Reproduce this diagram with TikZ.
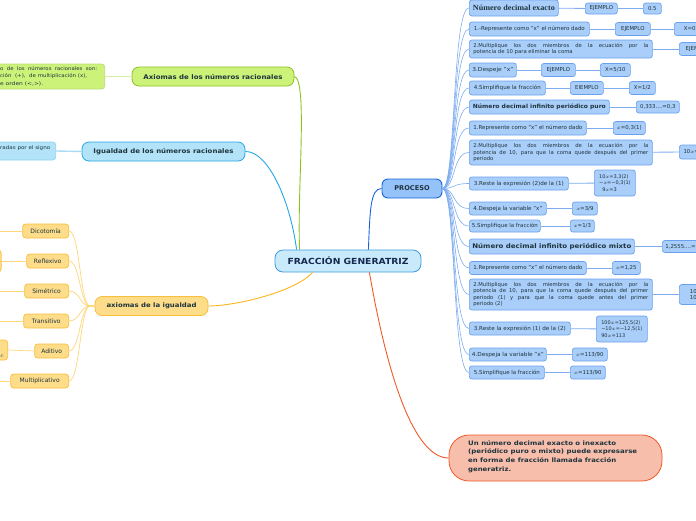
\documentclass[tikz,border=0pt]{standalone}
\usepackage{fontspec}
\usepackage{graphicx}
\setmainfont{DejaVu Sans}
\newfontfamily\serifb{Liberation Serif}
\usetikzlibrary{calc}
\newcommand\fw[2]{\resizebox{#1pt}{\height}{#2}}
\definecolor{txt}{RGB}{30,52,60}
\definecolor{navy}{RGB}{22,40,80}
\definecolor{pfl}{RGB}{170,206,250}
\definecolor{pbd}{RGB}{105,160,238}
\definecolor{plc}{RGB}{125,172,240}
\definecolor{prfl}{RGB}{150,194,250}
\definecolor{prbd}{RGB}{25,100,218}
\definecolor{cfl}{RGB}{200,234,250}
\definecolor{cbd}{RGB}{60,155,222}
\definecolor{gfl}{RGB}{204,242,122}
\definecolor{gbd}{RGB}{141,194,31}
\definecolor{gln}{RGB}{210,240,160}
\definecolor{sfl}{RGB}{179,227,248}
\definecolor{sbd}{RGB}{34,166,230}
\definecolor{sln}{RGB}{170,220,245}
\definecolor{ofl}{RGB}{253,220,138}
\definecolor{obd}{RGB}{248,190,60}
\definecolor{oln}{RGB}{253,215,120}
\definecolor{omain}{RGB}{250,180,30}
\definecolor{rfl}{RGB}{248,190,172}
\definecolor{rbd}{RGB}{240,90,40}
\tikzset{
  pb/.style={draw=pbd, fill=pfl, line width=0.7pt, rounded corners=2.5pt, inner sep=0pt, text=txt,
    font=\fontsize{5.5}{6.6}\selectfont, minimum height=13pt, anchor=west},
  pv/.style={pb, font=\fontsize{5.4}{6.5}\selectfont},
  pm/.style={pb, font=\fontsize{5.3}{6.6}\selectfont, inner xsep=4pt, text width=175pt, align=justify},
  pl/.style={draw=plc, line width=0.8pt},
  ob/.style={draw=obd, fill=ofl, line width=0.7pt, rounded corners=3pt, inner sep=0pt, text=txt,
    font=\fontsize{6}{7}\selectfont, minimum height=14pt, anchor=east},
  ol/.style={draw=oln, line width=0.7pt},
}
\begin{document}
\begin{tikzpicture}[x=1pt,y=-1pt]
\useasboundingbox (0,0) rectangle (696,520);
\clip (0,0) rectangle (696,520);

% ---------- central ----------
\node[draw=cbd, fill=cfl, line width=0.8pt, rounded corners=8pt, minimum width=146pt, minimum height=22pt,
  text=navy, font=\bfseries\fontsize{8.4}{10}\selectfont, inner sep=0pt] (cen) at (348,261) {\fw{121}{FRACCIÓN GENERATRIZ}};

% ---------- green ----------
\node[draw=gbd, fill=gfl, line width=0.8pt, rounded corners=7pt, minimum width=162pt, minimum height=19pt,
  text=txt, font=\bfseries\fontsize{6.4}{8}\selectfont, inner sep=0pt] (ax) at (213,76.5) {\fw{139}{Axiomas de los números racionales}};
\node[draw=gbd!60, fill=gfl, line width=0.7pt, rounded corners=3pt, minimum width=130pt, minimum height=25pt,
  inner sep=0pt, anchor=east] (gbox) at (105,76.5) {};
\node[anchor=north west, inner sep=0pt, text=txt, font=\fontsize{5}{7.2}\selectfont, align=left] (gtext) at (0,66.5)
  {\fw{97}{o\ \ de\ \ los\ \ números\ \ racionales\ \ son:}\\\fw{87}{ción\ \ (+),\ \ de multiplicación (x),}\\\fw{43}{e orden (<,>).}};
\draw[draw=gln, line width=1.4pt] (gbox.east) -- (ax.west);
\draw[draw=gbd, line width=0.9pt] (ax.east) .. controls (308,80) and (297,190) .. ($(cen.north west)+(25,0)$);

% ---------- sky blue ----------
\node[draw=sbd, fill=sfl, line width=0.8pt, rounded corners=7pt, minimum width=163pt, minimum height=19pt,
  text=txt, font=\bfseries\fontsize{6.4}{8}\selectfont, inner sep=0pt] (ig) at (163.5,151.5) {\fw{140}{Igualdad de los números racionales}};
\node[draw=sbd!50, fill=sfl, line width=0.7pt, rounded corners=3pt, minimum width=120pt, minimum height=18pt,
  inner sep=0pt, anchor=east] (sbox) at (56,151) {};
\node[anchor=west, inner sep=0pt, text=txt, font=\fontsize{5}{6.5}\selectfont] (stext) at (0,148.5) {\fw{50}{radas por el signo}};
\draw[draw=sln, line width=1.4pt] (sbox.east) -- (ig.west);
\draw[draw=sbd, line width=0.9pt] (ig.east) .. controls (268,151) and (290,200) .. ($(cen.north west)+(22,0)$);

% ---------- orange ----------
\node[draw=obd, fill=ofl, line width=0.8pt, rounded corners=7pt, minimum width=113pt, minimum height=19pt,
  text=txt, font=\bfseries\fontsize{6.2}{8}\selectfont, inner sep=0pt] (ai) at (151.5,306) {\fw{90}{axiomas de la igualdad}};
\draw[draw=omain, line width=0.9pt] ($(cen.south west)+(38,0)$) .. controls (295,292) and (235,306) .. (ai.east);

\node[ob, minimum width=46pt] (o1) at (69,231) {Dicotomía};
\node[ob, minimum width=42pt] (o2) at (69,261) {Reflexivo};
\node[ob, minimum width=44pt] (o3) at (69,291) {Simétrico};
\node[ob, minimum width=45pt] (o4) at (69,321) {Transitivo};
\node[ob, minimum width=34pt] (o5) at (69,351) {Aditivo};
\node[ob, minimum width=58pt] (o6) at (69,381) {Multiplicativo};
\coordinate (oa) at (90,306);
\foreach \n in {o1,o2,o3,o4,o5,o6}{
  \draw[ol] (ai.west) -- (oa) .. controls (80,306) and (80,0|-\n.east) .. (\n.east);
}
\node[ob, minimum width=24pt, minimum height=22pt, rounded corners=3pt] (o2b) at (1.5,261) {};
\node[ob, minimum width=30pt, minimum height=20pt, rounded corners=3pt] (o5b) at (8,350) {};
\node[inner sep=0pt, text=txt, font=\fontsize{6}{7}\selectfont] (o5t) at (2,356) {$c$};
\coordinate (e1) at (0,231); \coordinate (e3) at (0,291); \coordinate (e4) at (0,321); \coordinate (e6) at (0,381);
\draw[ol] (e1) -- (o1.west);
\draw[ol] (o2b.east) -- (o2.west);
\draw[ol] (e3) -- (o3.west);
\draw[ol] (e4) -- (o4.west);
\draw[ol] (o5b.east) -- (o5.west);
\draw[ol] (e6) -- (o6.west);

% ---------- red ----------
\node[draw=rbd, fill=rfl, line width=0.8pt, rounded corners=20pt, minimum width=213pt, minimum height=46pt,
  inner sep=0pt] (red) at (555.5,458) {};
\node[anchor=north west, inner sep=0pt, text=txt, font=\bfseries\fontsize{6.1}{8.7}\selectfont, align=left] (redt) at (468,440)
  {\fw{148}{Un número decimal exacto o inexacto}\\\fw{169}{(periódico puro o mixto) puede expresarse}\\\fw{148}{en forma de fracción llamada fracción}\\\fw{43}{generatriz.}};
\draw[draw=rbd, line width=0.9pt] ($(cen.south east)+(-52,0)$) .. controls (388,380) and (415,458) .. (red.west);

% ---------- proceso ----------
\node[draw=prbd, fill=prfl, line width=0.9pt, rounded corners=6pt, minimum width=60pt, minimum height=19pt,
  text=txt, font=\bfseries\fontsize{6.6}{8}\selectfont, inner sep=0pt] (pro) at (412,188.5) {PROCESO};
\draw[draw=prbd, line width=0.9pt] ($(cen.north east)+(-53,0)$) .. controls (370,212) and (370,188.5) .. (pro.west);

% children
\node[pb, minimum width=89pt, minimum height=16pt, font=\serifb\bfseries\fontsize{7.8}{9}\selectfont] (p1) at (469,8) {\fw{82}{Número decimal exacto}};
\node[pv, minimum width=32pt, minimum height=11pt] (p1e) at (585,8.5) {EJEMPLO};
\node[pv, minimum width=18pt, minimum height=11pt] (p1v) at (643,8.5) {0.5};
\draw[pl] (p1) -- (p1e); \draw[pl] (p1e) -- (p1v);

\node[pb, minimum width=120pt, minimum height=14pt] (p2) at (469,29) {\fw{111}{1.-Represente como "x" el número dado}};
\node[pv, minimum width=35pt] (p2e) at (615,29) {EJEMPLO};
\node[pv, minimum width=36pt] (p2v) at (674,29) {X=0.5};
\draw[pl] (p2) -- (p2e); \draw[pl] (p2e) -- (p2v);

\node[pm, minimum height=18pt] (p3) at (469,49)
  {2.Multiplique los dos miembros de la ecuación por la\linebreak potencia de 10 para eliminar la coma};
\node[pv, minimum width=36pt] (p3e) at (679,49) {EJEMPLO};
\draw[pl] (p3) -- (p3e);

\node[pb, minimum width=47pt, minimum height=14pt] (p4) at (469,70) {\fw{41}{3.Despeje "x"}};
\node[pv, minimum width=34pt] (p4e) at (541,70) {EJEMPLO};
\node[pv, minimum width=30pt] (p4v) at (600,70) {X=5/10};
\draw[pl] (p4) -- (p4e); \draw[pl] (p4e) -- (p4v);

\node[pb, minimum width=76pt, minimum height=14pt] (p5) at (469,88) {\fw{67}{4.Simplifique la fracción}};
\node[pv, minimum width=33pt] (p5e) at (570,88) {EIEMPLO};
\node[pv, minimum width=26pt] (p5v) at (629,88) {X=1/2};
\draw[pl] (p5) -- (p5e); \draw[pl] (p5e) -- (p5v);

\node[pb, minimum width=140pt, minimum height=14pt, font=\bfseries\fontsize{5.7}{6.6}\selectfont] (p6) at (469,107) {\fw{133}{Número decimal infinito periódico puro}};
\node[pv, minimum width=43pt, minimum height=12pt] (p6v) at (636,107) {0,333....=0,3};
\draw[pl] (p6) -- (p6v);

\node[pb, minimum width=117pt, minimum height=14pt] (p7) at (469,128) {\fw{109}{1.Represente como "x" el número dado}};
\node[pv, minimum width=32pt] (p7v) at (613,128) {$x$=0,3(1)};
\draw[pl] (p7) -- (p7v);

\node[pm, minimum height=25pt] (p8) at (469,152.5)
  {2.Multiplique los dos miembros de la ecuación por la\linebreak potencia de 10, para que la coma quede después del primer\linebreak periodo};
\node[pv, minimum width=40pt, minimum height=14pt] (p8v) at (679,152) {10$x$=3,3(2)};
\draw[pl] (p8) -- (p8v);

\node[pb, minimum width=99pt] (p9) at (469,183.5) {\fw{90}{3.Reste la expresión (2)de la (1)}};
\node[pv, minimum width=41pt, minimum height=26pt, align=left, font=\fontsize{5}{6.5}\selectfont] (p9v) at (594,183) {10$x$=3,3(2)\\−$x$=−0,3(1)\\\ \ 9$x$=3};
\draw[pl] (p9) -- (p9v);

\node[pb, minimum width=77pt] (p10) at (469,208.5) {\fw{69}{4.Despeja la variable "x"}};
\node[pv, minimum width=25pt] (p10v) at (572,208.5) {$x$=3/9};
\draw[pl] (p10) -- (p10v);

\node[pb, minimum width=71pt, minimum height=12pt] (p11) at (469,226) {\fw{66}{5.Simplifique la fracción}};
\node[pv, minimum width=24pt, minimum height=12pt] (p11v) at (570,226) {$x$=1/3};
\draw[pl] (p11) -- (p11v);

\node[pb, minimum width=165pt, minimum height=15pt, font=\bfseries\fontsize{6.4}{7.5}\selectfont] (p12) at (469,246.5) {\fw{159}{Número decimal infinito periódico mixto}};
\node[pv, minimum width=50pt, minimum height=12pt, text width=44pt, align=left] (p12v) at (662,246.5) {1,2555....=};
\draw[pl] (p12) -- (p12v);

\node[pb, minimum width=117pt] (p13) at (469,268) {\fw{109}{1.Represente como "x" el número dado}};
\node[pv, minimum width=28pt] (p13v) at (612,268) {$x$=1,25};
\draw[pl] (p13) -- (p13v);

\node[pm, minimum height=31pt] (p14) at (469,294.5)
  {2.Multiplique los dos miembros de la ecuación por la\linebreak potencia de 10, para que la coma quede después del primer\linebreak periodo (1) y para que la coma quede antes del primer\linebreak periodo (2)};
\node[pv, minimum width=40pt, minimum height=20pt, align=left] (p14v) at (679,294.5) {100$x$=\\10$x$=};
\draw[pl] (p14) -- (p14v);

\node[pb, minimum width=101pt] (p15) at (469,328.5) {\fw{92}{3.Reste la expresión (1) de la (2)}};
\node[pv, minimum width=51pt, minimum height=26pt, align=left, font=\fontsize{5}{6.5}\selectfont] (p15v) at (596,329) {100$x$=125,5(2)\\−10$x$=−12,5(1)\\90$x$=113};
\draw[pl] (p15) -- (p15v);

\node[pb, minimum width=77pt] (p16) at (469,354.5) {\fw{72}{4.Despeja la variable "x"}};
\node[pv, minimum width=35pt] (p16v) at (572,354.5) {$x$=113/90};
\draw[pl] (p16) -- (p16v);

\node[pb, minimum width=75pt] (p17) at (469,372.5) {\fw{66}{5.Simplifique la fracción}};
\node[pv, minimum width=35pt] (p17v) at (570,372.5) {$x$=113/90};
\draw[pl] (p17) -- (p17v);

\foreach \n in {p1,p2,p3,p4,p5,p6,p7,p8,p9,p10,p11,p12,p13,p14,p15,p16,p17}{
  \draw[pl, line width=0.6pt] (pro.east) .. controls (456,188.5) and (452,0|-\n.west) .. (\n.west);
}
\end{tikzpicture}
\end{document}
